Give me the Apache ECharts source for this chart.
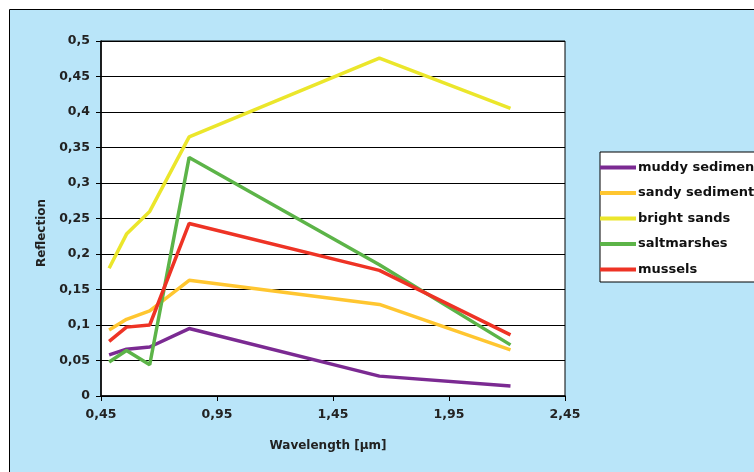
<!DOCTYPE html>
<html><head><meta charset="utf-8">
<script src="https://cdn.jsdelivr.net/npm/echarts@6/dist/echarts.min.js"></script>
<style>html,body{margin:0;padding:0;background:#fff}#c{width:754px;height:472px}</style>
</head><body><div id="c"></div>
<script>
const wavelengths = [0.485, 0.56, 0.66, 0.83, 1.65, 2.215];
const seriesNames = ['muddy sediment', 'sandy sediment', 'bright sands', 'saltmarshes', 'mussels'];
const muddySediment = [0.058, 0.066, 0.069, 0.095, 0.028, 0.014];
const sandySediment = [0.093, 0.108, 0.120, 0.163, 0.129, 0.065];
const brightSands   = [0.180, 0.228, 0.260, 0.365, 0.476, 0.405];
const saltmarshes   = [0.048, 0.064, 0.044, 0.336, 0.185, 0.072];
const mussels       = [0.077, 0.097, 0.100, 0.243, 0.177, 0.086];
const colors = ['#7b2a92', '#ffc630', '#ebe62b', '#5cb448', '#ee3325'];
const allValues = [muddySediment, sandySediment, brightSands, saltmarshes, mussels];

const fmt = v => parseFloat(v.toFixed(2)).toString().replace('.', ',');
const fmtX = v => v.toFixed(2).replace('.', ',');
const font = '"DejaVu Sans", sans-serif';

const chart = echarts.init(document.getElementById('c'));
chart.setOption({
  animation: false,
  backgroundColor: '#ffffff',
  graphic: [
    {type: 'rect', shape: {x: 9.5, y: 9.5, width: 800, height: 500},
     style: {fill: '#b9e5f9', stroke: '#000', lineWidth: 1}, z: -10},
    {type: 'text', rotation: Math.PI / 2,
     x: 42, y: 233, originX: 0, originY: 0,
     style: {text: 'Reflection', font: 'bold 12px ' + font, fill: '#222', align: 'center', verticalAlign: 'middle'}},
    {type: 'text', x: 328, y: 446,
     style: {text: 'Wavelength [µm]', font: 'bold 12px ' + font, fill: '#222', align: 'center', verticalAlign: 'middle'}}
  ],
  grid: {left: 101, top: 41, right: 189, bottom: 76, show: true, backgroundColor: '#fff', borderColor: '#000', borderWidth: 1},
  legend: {
    orient: 'vertical', left: 600, top: 152,
    data: seriesNames,
    icon: 'rect', itemWidth: 36, itemHeight: 4, itemGap: 12.5,
    padding: [9, 10, 6, 0],
    backgroundColor: '#fff', borderColor: '#000', borderWidth: 1,
    textStyle: {fontFamily: font, fontWeight: 'bold', fontSize: 13, color: '#111', padding: [0, 0, 0, -3]}
  },
  xAxis: {
    type: 'value', min: 0.45, max: 2.45, interval: 0.5,
    axisLine: {show: true, lineStyle: {color: '#000', width: 1.5}},
    axisTick: {show: true, length: 5, lineStyle: {color: '#000'}},
    splitLine: {show: false},
    axisLabel: {formatter: fmtX, color: '#222', fontFamily: font, fontWeight: 'bold', fontSize: 12.5, margin: 12}
  },
  yAxis: {
    type: 'value', min: 0, max: 0.5, interval: 0.05,
    axisLine: {show: true, lineStyle: {color: '#000', width: 1.5}},
    axisTick: {show: true, length: 5, lineStyle: {color: '#000'}},
    splitLine: {show: true, lineStyle: {color: '#000', width: 1}},
    axisLabel: {formatter: fmt, color: '#222', fontFamily: font, fontWeight: 'bold', fontSize: 12.5, margin: 11}
  },
  series: seriesNames.map((n, i) => ({
    name: n, type: 'line', symbol: 'none', color: colors[i],
    lineStyle: {width: 3.5, color: colors[i]},
    itemStyle: {color: colors[i]},
    data: wavelengths.map((w, j) => [w, allValues[i][j]])
  }))
});
</script></body></html>
